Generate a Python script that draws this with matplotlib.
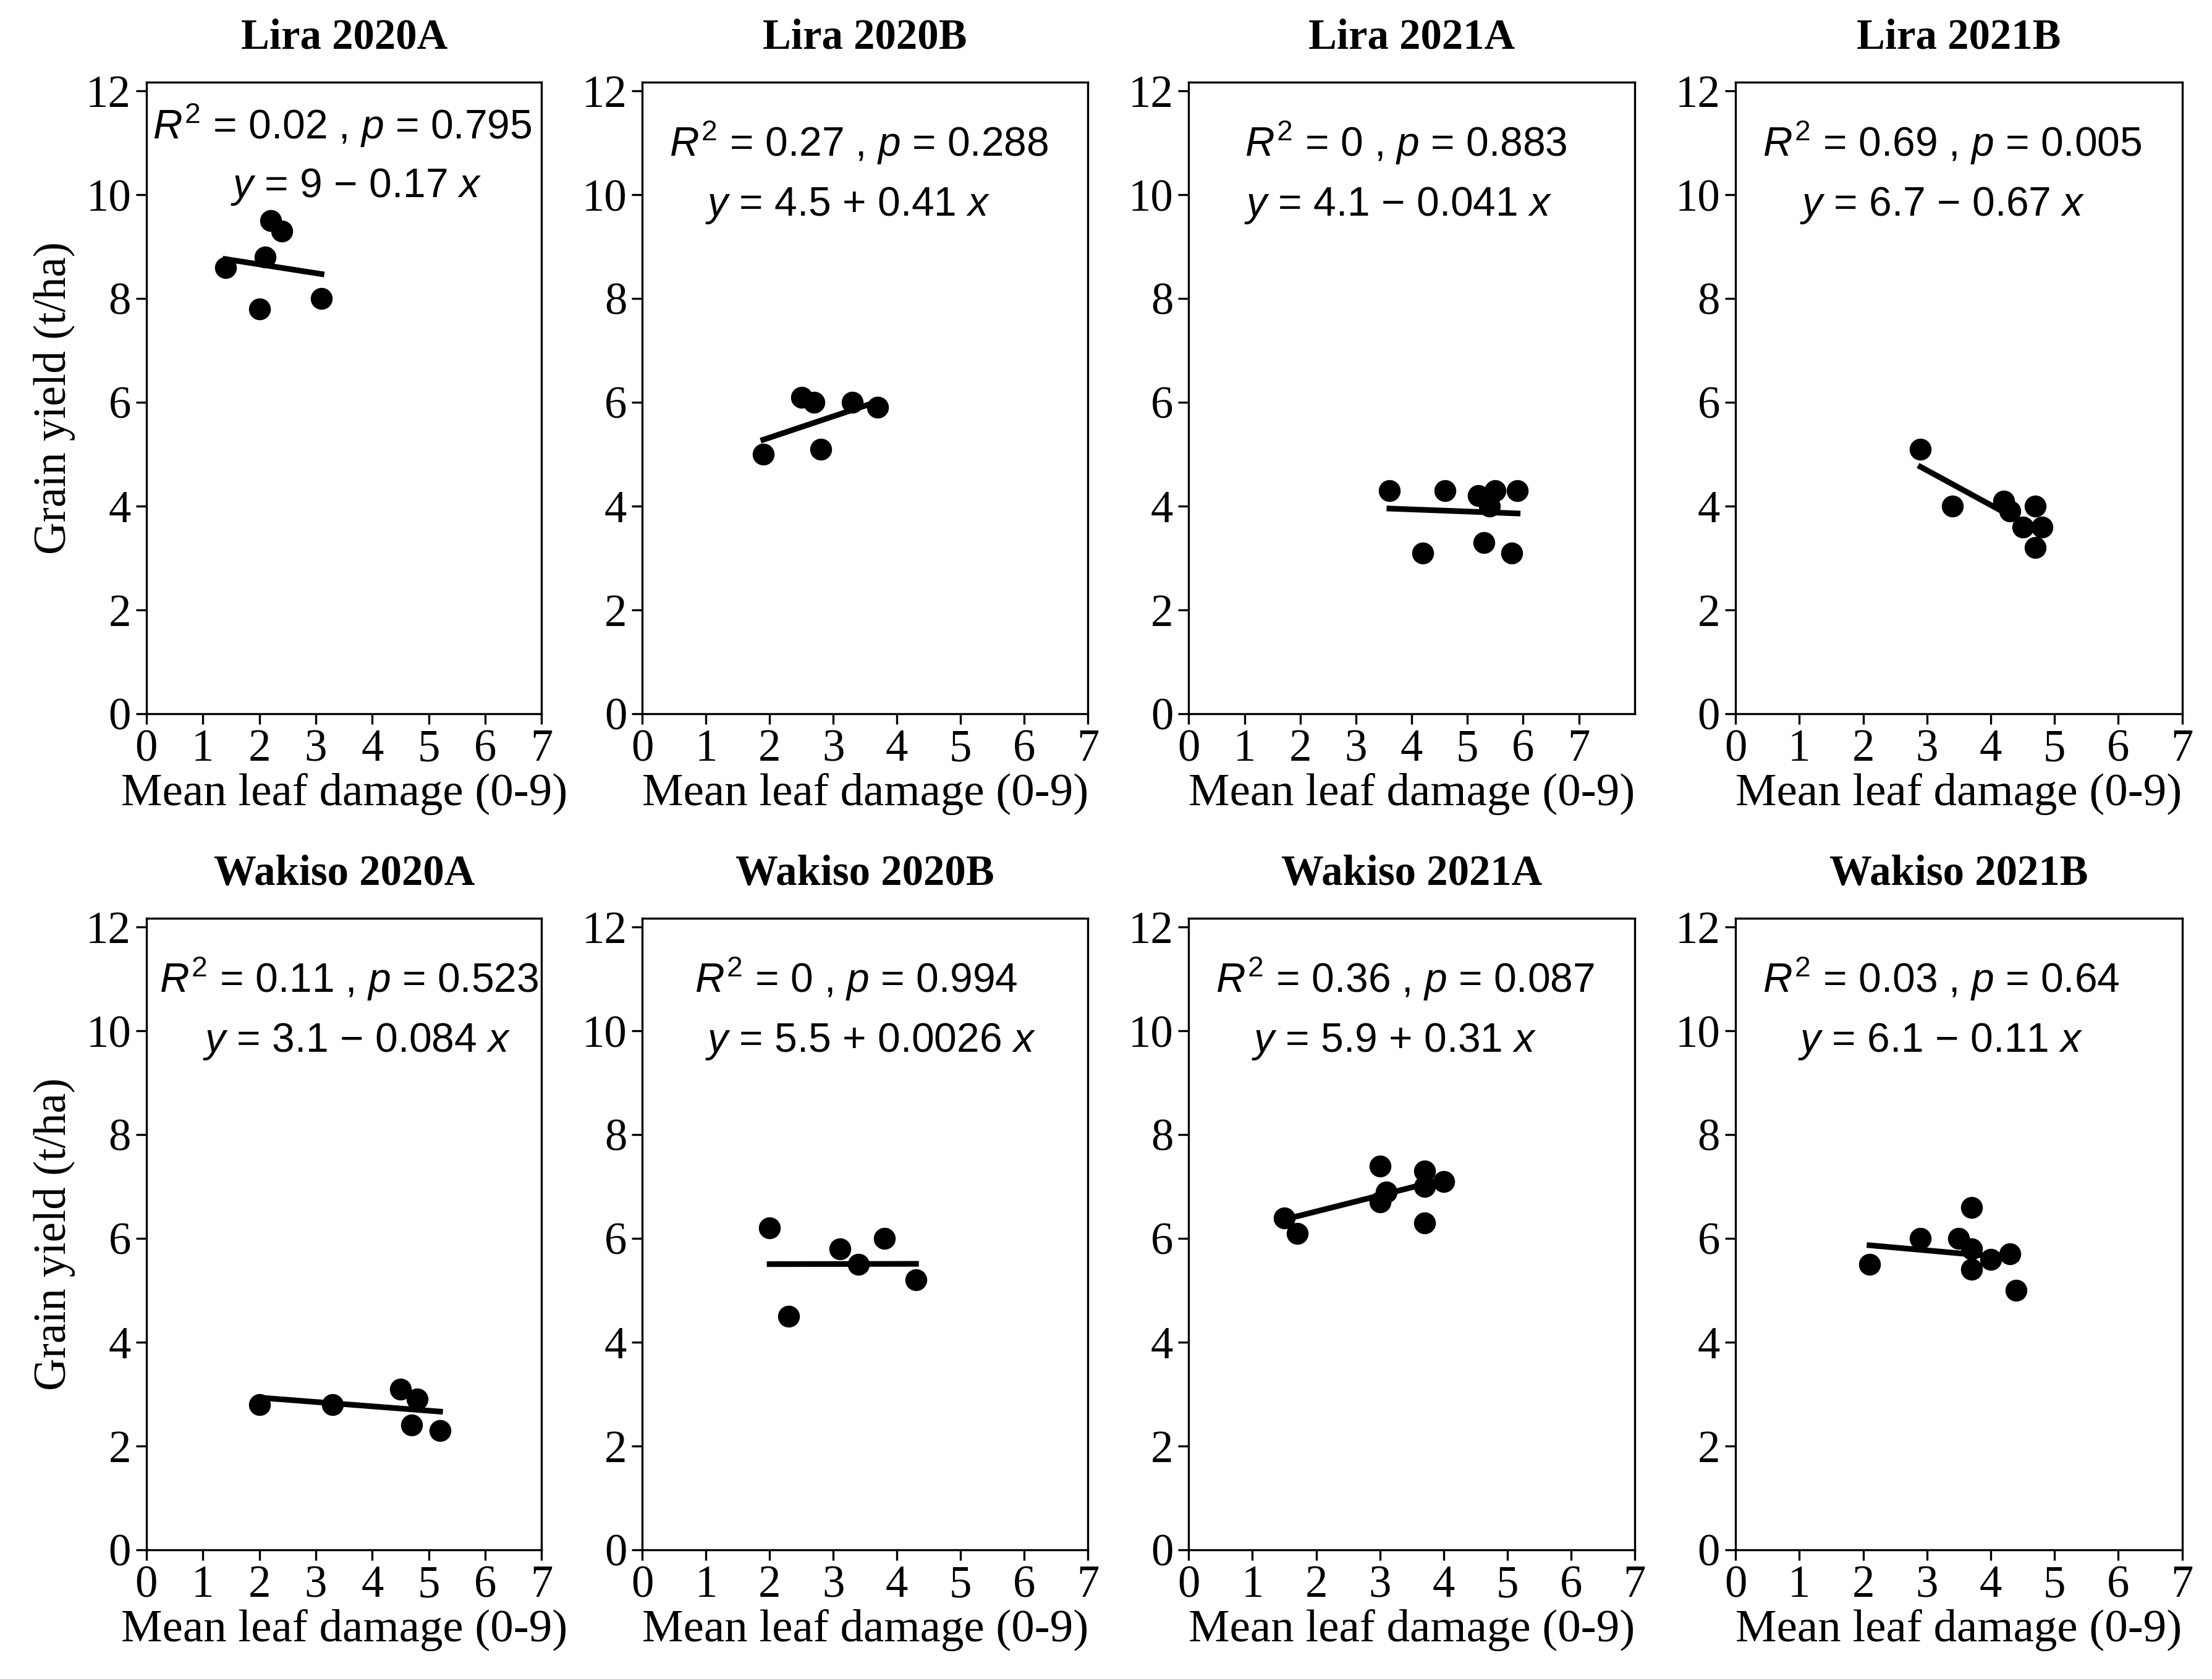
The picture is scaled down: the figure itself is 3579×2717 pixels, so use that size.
import numpy as np
import matplotlib
matplotlib.use("Agg")
import matplotlib.pyplot as plt

plt.rcParams['font.family'] = 'Liberation Serif'
plt.rcParams['mathtext.fontset'] = 'custom'
plt.rcParams['mathtext.rm'] = 'Liberation Sans'
plt.rcParams['mathtext.it'] = 'Liberation Sans:italic'

## panel data
titles = ['Lira 2020A', 'Lira 2020B', 'Lira 2021A', 'Lira 2021B',
          'Wakiso 2020A', 'Wakiso 2020B', 'Wakiso 2021A', 'Wakiso 2021B']

damage = [
    [1.4, 2.0, 2.1, 2.2, 2.4, 3.1],
    [1.9, 2.5, 2.7, 2.8, 3.3, 3.7],
    [3.6, 4.2, 4.6, 5.2, 5.3, 5.4, 5.5, 5.8, 5.9],
    [2.9, 3.4, 4.2, 4.3, 4.5, 4.7, 4.8, 4.7],
    [2.0, 3.3, 4.5, 4.8, 4.7, 5.2],
    [2.0, 2.3, 3.1, 3.4, 3.8, 4.3],
    [1.5, 1.7, 3.0, 3.0, 3.1, 3.7, 3.7, 3.7, 4.0],
    [2.1, 2.9, 3.5, 3.7, 3.7, 3.7, 4.0, 4.3, 4.4],
]

grain_yield = [
    [8.6, 7.8, 8.8, 9.5, 9.3, 8.0],
    [5.0, 6.1, 6.0, 5.1, 6.0, 5.9],
    [4.3, 3.1, 4.3, 4.2, 3.3, 4.0, 4.3, 3.1, 4.3],
    [5.1, 4.0, 4.1, 3.9, 3.6, 4.0, 3.6, 3.2],
    [2.8, 2.8, 3.1, 2.9, 2.4, 2.3],
    [6.2, 4.5, 5.8, 5.5, 6.0, 5.2],
    [6.4, 6.1, 7.4, 6.7, 6.9, 7.3, 7.0, 6.3, 7.1],
    [5.5, 6.0, 6.0, 6.6, 5.8, 5.4, 5.6, 5.7, 5.0],
]

r2_text = ['0.02', '0.27', '0', '0.69', '0.11', '0', '0.36', '0.03']
p_text = ['0.795', '0.288', '0.883', '0.005', '0.523', '0.994', '0.087', '0.64']
intercept = [9, 4.5, 4.1, 6.7, 3.1, 5.5, 5.9, 6.1]
slope = [-0.17, 0.41, -0.041, -0.67, -0.084, 0.0026, 0.31, -0.11]

## layout (figure fractions) and label spots (data coords)
lefts = [0.0662, 0.2904, 0.5374, 0.7846]
widths = [0.1787, 0.2014, 0.2016, 0.2019]
bottoms = [0.575, 0.077]
height = 0.376
xmax = [7, 7, 8, 7, 7, 7, 7, 7]
lab1_x = [0.11, 0.42, 1.01, 0.43, 0.23, 0.82, 0.42, 0.43]
lab2_x = [1.49, 0.99, 0.99, 1.01, 1.0, 0.99, 0.99, 0.98]
lab1_y = [11.33, 11.0, 11.0, 11.0, 11.0, 11.0, 11.0, 11.0]
lab2_y = [10.15, 9.8, 9.8, 9.8, 9.8, 9.8, 9.8, 9.8]

fig = plt.figure(figsize=(3579/300, 2717/300), dpi=300)

for i in range(8):
    row, col = divmod(i, 4)
    ax = fig.add_axes([lefts[col], bottoms[row], widths[col], height])

    x = np.array(damage[i])
    y = np.array(grain_yield[i])
    ax.plot(x, y, 'o', color='black', markersize=7.5, zorder=3)

    # fitted line over the data range
    xs = np.array([x.min(), x.max()])
    ax.plot(xs, intercept[i] + slope[i]*xs, color='black', linewidth=2.2, zorder=2)

    sign = '+' if slope[i] >= 0 else '\u2212'
    ax.text(lab1_x[i], lab1_y[i], r'$R^2$ = ' + r2_text[i] + r' , $p$ = ' + p_text[i],
            family='Liberation Sans', fontsize=15.8, ha='left', va='center')
    ax.text(lab2_x[i], lab2_y[i], r'$y$ = %g %s %g $x$' % (intercept[i], sign, abs(slope[i])),
            family='Liberation Sans', fontsize=15.8, ha='left', va='center')

    ax.set_xlim(0, xmax[i])
    ax.set_ylim(0, 12.17)
    ax.set_xticks(range(0, 8))
    ax.set_yticks(range(0, 13, 2))
    ax.tick_params(direction='out', length=4, width=0.8, labelsize=17.5, pad=2)
    for sp in ax.spines.values():
        sp.set_linewidth(0.8)

    ax.set_title(titles[i], fontsize=16.5, fontweight='bold', pad=13)
    ax.set_xlabel('Mean leaf damage (0-9)', fontsize=18, labelpad=1)
    if col == 0:
        ax.set_ylabel('Grain yield (t/ha)', fontsize=17.5, labelpad=4)

fig.savefig('out.png', dpi=300)
